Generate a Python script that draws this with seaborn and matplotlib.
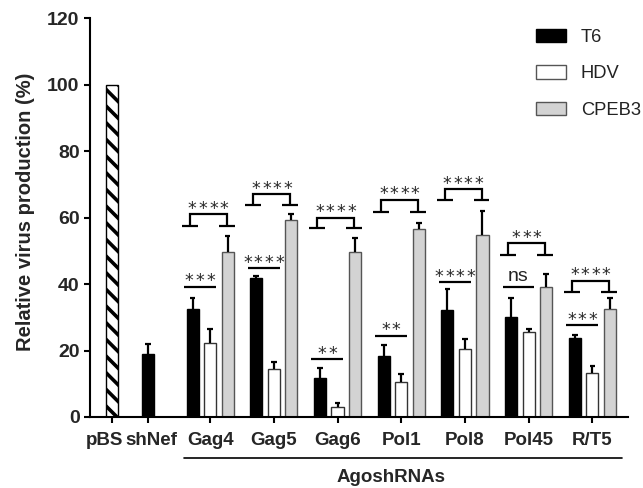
import numpy as np
import pandas as pd
import matplotlib
matplotlib.use("Agg")
import matplotlib.pyplot as plt
import seaborn as sns
from matplotlib.patches import Patch

# ---------------- data ----------------
controls = ["pBS", "shNef"]
control_vals = [100.0, 19.0]
control_err = [0.0, 3.0]

groups = ["Gag4", "Gag5", "Gag6", "Pol1", "Pol8", "Pol45", "R/T5"]
series = ["T6", "HDV", "CPEB3"]
t6 = [32.4, 41.9, 11.8, 18.4, 32.2, 30.2, 23.7]
t6_err = [3.3, 0.6, 2.8, 3.3, 6.3, 5.5, 0.9]
hdv = [22.3, 14.3, 3.1, 10.6, 20.5, 25.7, 13.3]
hdv_err = [4.1, 2.2, 1.0, 2.3, 3.0, 0.9, 2.0]
cpeb3 = [49.7, 59.2, 49.7, 56.5, 54.7, 39.0, 32.4]
cpeb3_err = [4.8, 2.0, 4.0, 1.9, 7.3, 4.0, 3.3]

# significance: T6 vs HDV (single line) and T6 vs CPEB3 (bracket)
sig_pair = ["***", "****", "**", "**", "****", "ns", "***"]
pair_level = [39.2, 44.7, 17.4, 24.5, 40.5, 39.2, 27.7]
sig_bracket = ["****", "****", "****", "****", "****", "***", "****"]
bracket_ledge = [57.4, 63.8, 56.7, 61.7, 65.3, 48.7, 37.5]
bracket_top = [61.0, 67.0, 60.0, 65.4, 68.6, 52.2, 41.0]

group_label = "AgoshRNAs"
y_label = "Relative virus production (%)"
y_ticks = [0, 20, 40, 60, 80, 100, 120]

# ---------------- layout ----------------
ctrl_pos = [0.466, 1.027]
ctrl_label_shift = [-5.4, 2.5]   # points
group_pos = list(range(2, 2 + len(groups)))
offsets = {"T6": -0.275, "HDV": 0.0, "CPEB3": 0.275}

sns.set_style("ticks")
plt.rcParams["font.family"] = ["Liberation Sans", "DejaVu Sans"]
plt.rcParams["hatch.linewidth"] = 2.6
plt.rcParams["hatch.color"] = "black"

rows = []
for name, v, e, p in zip(controls, control_vals, control_err, ctrl_pos):
    rows.append(dict(x=p, value=v, err=e, series=name))
vals = {"T6": (t6, t6_err), "HDV": (hdv, hdv_err), "CPEB3": (cpeb3, cpeb3_err)}
for s in series:
    for g, v, e in zip(group_pos, *vals[s]):
        rows.append(dict(x=g + offsets[s], value=v, err=e, series=s))
df = pd.DataFrame(rows)

palette = {"pBS": "white", "shNef": "black", "T6": "black",
           "HDV": "white", "CPEB3": "#d3d3d3"}

fig = plt.figure(figsize=(6.43, 4.88), dpi=100)
ax = fig.add_axes([0.14, 0.1455, 0.837, 0.8175])

sns.barplot(data=df, x="x", y="value", hue="series",
            hue_order=["pBS", "shNef"] + series, palette=palette,
            native_scale=True, dodge=False, width=0.69, errorbar=None,
            legend=False, linewidth=1.0, edgecolor="#444444", ax=ax)

for p in ax.patches:
    cx = p.get_x() + p.get_width() / 2
    fc = p.get_facecolor()
    if abs(cx - ctrl_pos[0]) < 0.05:
        p.set_hatch("\\\\")
        p.set_edgecolor("black")
    elif fc[0] < 0.1:
        p.set_edgecolor("black")
    elif fc[0] > 0.95:
        p.set_edgecolor("#333333")
    else:
        p.set_edgecolor("#555555")

# error bars (upper only)
eb = df[df["err"] > 0]
cap = 0.045
ax.vlines(eb["x"], eb["value"], eb["value"] + eb["err"], colors="black",
          linewidth=1.6, zorder=4)
ax.hlines(eb["value"] + eb["err"], eb["x"] - cap, eb["x"] + cap,
          colors="black", linewidth=1.6, zorder=4)


def stars(label, x, y):
    n = len(label)
    step = 7.6  # points between star centres
    for k in range(n):
        ax.annotate("*", (x, y), xytext=((k - (n - 1) / 2) * step, 0.2),
                    textcoords="offset points", ha="center", va="baseline",
                    fontsize=12.5, color="#2a2a2a", family="DejaVu Sans",
                    annotation_clip=False)


# significance annotations
lw = 1.6
for i, g in enumerate(group_pos):
    x0, x1 = g - 0.41, g + 0.09
    ax.plot([x0, x1], [pair_level[i]] * 2, color="black", lw=lw,
            solid_capstyle="butt")
    if sig_pair[i] == "ns":
        ax.annotate("ns", ((x0 + x1) / 2, pair_level[i]), xytext=(0, 4.3),
                    ha="center", va="baseline", fontsize=14, color="#222222",
                    textcoords="offset points")
    else:
        stars(sig_pair[i], (x0 + x1) / 2, pair_level[i])
    xl, xr = g - 0.32, g + 0.26
    lo, hi = bracket_ledge[i], bracket_top[i]
    ax.plot([xl - 0.125, xl + 0.125], [lo, lo], color="black", lw=lw,
            solid_capstyle="butt")
    ax.plot([xr - 0.125, xr + 0.125], [lo, lo], color="black", lw=lw,
            solid_capstyle="butt")
    ax.plot([xl, xl, xr, xr], [lo, hi, hi, lo], color="black", lw=lw,
            solid_capstyle="butt", solid_joinstyle="miter")
    stars(sig_bracket[i], (xl + xr) / 2, hi)

# axes styling
ax.set_xlim(0.116, 8.562)
ax.set_ylim(0, 120)
ax.set_yticks(y_ticks)
ax.set_yticklabels([str(t) for t in y_ticks], fontsize=14, fontweight="bold")
ax.set_xticks(ctrl_pos + group_pos)
ax.set_xticklabels([""] * len(controls) + groups, fontsize=13.5,
                   fontweight="bold")
ax.tick_params(axis="both", direction="out", length=4.5, width=1.5,
               color="black")
ax.tick_params(axis="y", pad=3)
ax.tick_params(axis="x", pad=6)
for name, p, dx in zip(controls, ctrl_pos, ctrl_label_shift):
    ax.annotate(name, (p, 0), xytext=(dx, -10.5), textcoords="offset points",
                ha="center", va="top", fontsize=13.5, fontweight="bold",
                annotation_clip=False)
for s in ["top", "right"]:
    ax.spines[s].set_visible(False)
for s in ["left", "bottom"]:
    ax.spines[s].set_linewidth(1.5)
    ax.spines[s].set_color("black")
ax.set_xlabel("")
ax.set_ylabel(y_label, fontsize=14.5, fontweight="bold")
ax.yaxis.set_label_coords(-0.102, 0.515)

# group underline + label
ax.plot([1.59, 8.47], [-12.3, -12.3], color="black", lw=1.2, clip_on=False)
ax.text(4.84, -18.2, group_label, ha="center", va="center", fontsize=13.5,
        fontweight="bold")

# legend
handles = [Patch(facecolor="black", edgecolor="black", label="T6"),
           Patch(facecolor="white", edgecolor="#555555", label="HDV"),
           Patch(facecolor="#d3d3d3", edgecolor="#555555", label="CPEB3")]
fig.legend(handles=handles, loc="upper left",
           bbox_to_anchor=(536 / 643, 1 - 29 / 488), frameon=False,
           fontsize=13.2, handlelength=1.65, handleheight=0.75,
           handletextpad=0.8, labelspacing=1.05, borderpad=0,
           borderaxespad=0, labelcolor="#222222")

fig.savefig("out.png", dpi=100)
